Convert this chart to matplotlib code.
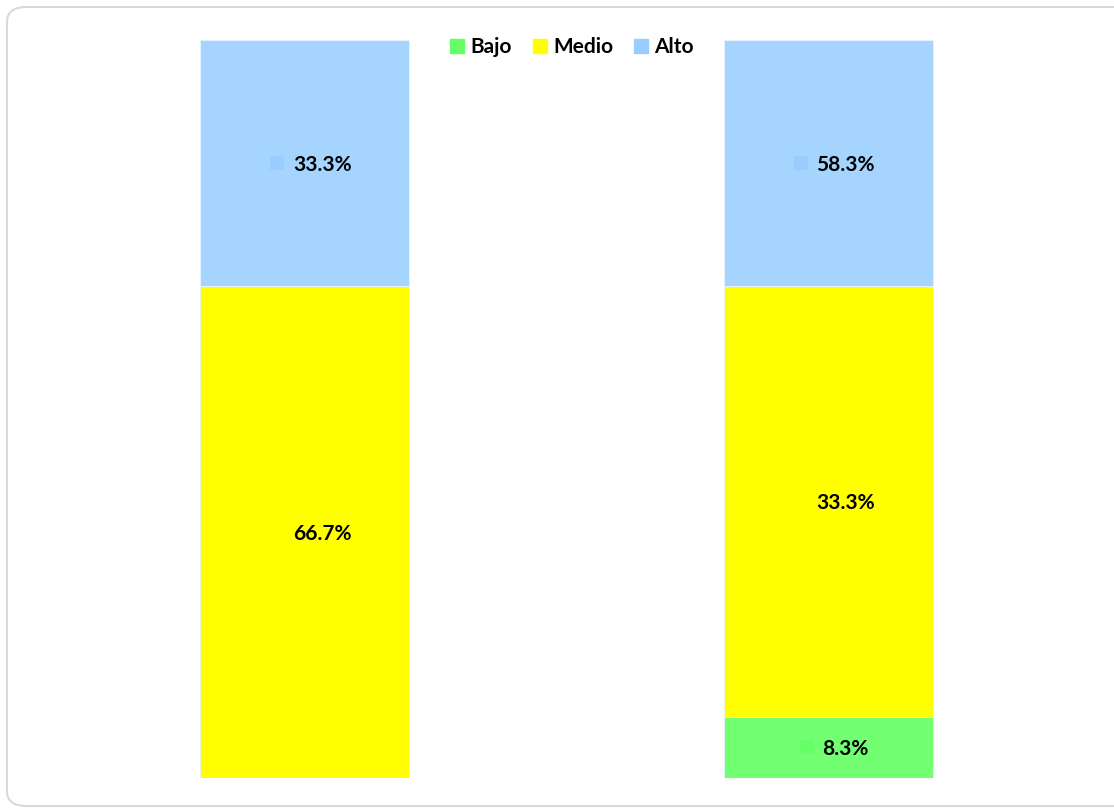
import numpy as np
import matplotlib
matplotlib.use("Agg")
import matplotlib.pyplot as plt
from matplotlib.patches import Rectangle, FancyBboxPatch
from matplotlib.transforms import offset_copy

# data (heights in %, labels as printed on the chart)
groups = ["Grupo 1", "Grupo 2"]
series = ["Bajo", "Medio", "Alto"]
bajo = [0.0, 8.3]
medio = [66.7, 58.4]
alto = [33.3, 33.3]
label_bajo = [None, "8.3%"]
label_medio = ["66.7%", "33.3%"]
label_alto = ["33.3%", "58.3%"]

bar_colors = ["#72FF72", "#FFFF00", "#A5D5FE"]
key_colors = ["#66FF66", "#FFFF00", "#99CCFF"]

plt.rcParams['font.family'] = ['Lato', 'DejaVu Sans']
fs = 15

fig = plt.figure(figsize=(11.14, 8.08), dpi=100)
ax = fig.add_axes([43/1114, 1 - 778/808, (1090 - 43)/1114, (778 - 40)/808])

# rounded border around the whole chart
border = FancyBboxPatch((7/1114, 2/808), 1.2, 799/808,
                        boxstyle="round,pad=0,rounding_size=0.018",
                        transform=fig.transFigure, fill=False,
                        edgecolor="#D9D9D9", linewidth=1.5, clip_on=False)
fig.patches.append(border)

x = np.arange(len(groups))
w = 0.4
vals = [bajo, medio, alto]
labs = [label_bajo, label_medio, label_alto]
bottom = np.zeros(len(groups))
texts = []
for i, (v, lab) in enumerate(zip(vals, labs)):
    v = np.array(v)
    ax.bar(x, v, w, bottom=bottom, color=bar_colors[i], edgecolor="#E8F4FF",
           linewidth=0.6, label=series[i])
    for j in range(len(groups)):
        if lab[j] is None or v[j] == 0:
            continue
        yc = bottom[j] + v[j] / 2
        t = ax.annotate(lab[j], (x[j], yc), xytext=(12.6, 0),
                        textcoords='offset points', ha='center',
                        va='center_baseline', fontsize=fs, fontweight='bold',
                        color='black', zorder=5)
        texts.append((t, x[j], yc, key_colors[i]))
    bottom = bottom + v

ax.set_xlim(-0.5, 1.5)
ax.set_ylim(0, 100)
ax.axis('off')

# small legend-key squares in front of each data label
fig.canvas.draw()
r = fig.canvas.get_renderer()
for t, xx, yy, c in texts:
    bb = t.get_window_extent(r)
    cx, cy = ax.transData.transform((xx, yy))
    dx = (bb.x0 - 16 - cx) * 72 / fig.dpi
    tr = offset_copy(ax.transData, fig=fig, x=dx, y=0, units='points')
    ax.plot([xx], [yy], marker='s', markersize=10, color=c,
            markeredgewidth=0, transform=tr, zorder=4)

handles = [Rectangle((0, 0), 1, 1, color=c) for c in key_colors]
fig.legend(handles, series, loc='center', bbox_to_anchor=(572/1114, 1 - 47/808),
           ncol=3, frameon=False, prop={'size': fs, 'weight': 'bold'},
           handlelength=0.67, handleheight=0.67, handletextpad=0.3,
           columnspacing=1.0, borderpad=0)

fig.savefig("out.png", dpi=100)
